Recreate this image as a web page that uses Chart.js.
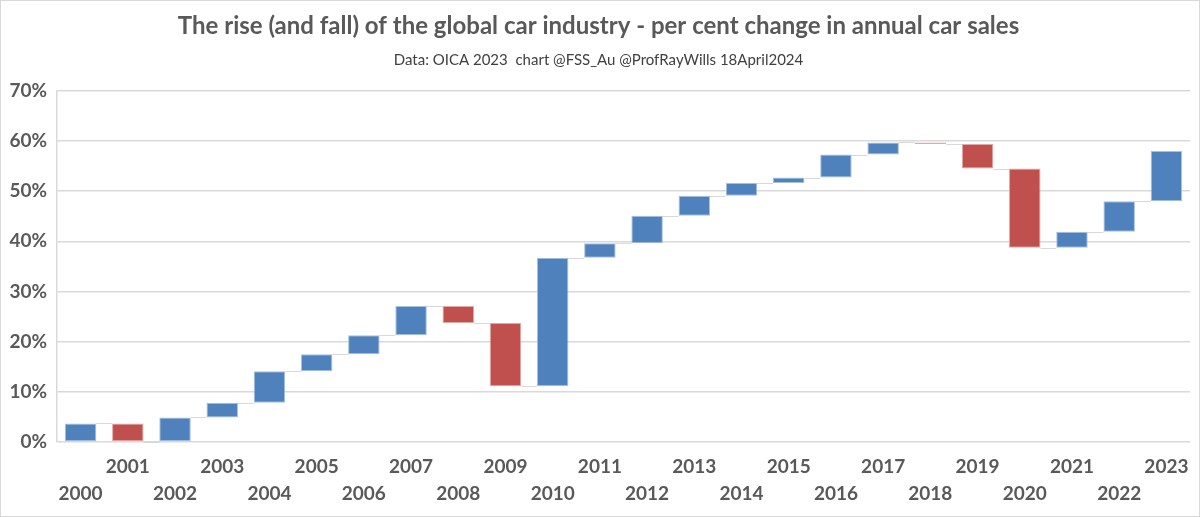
<!DOCTYPE html>
<html>
<head>
<meta charset="utf-8">
<script src="https://cdn.jsdelivr.net/npm/chart.js@4"></script>
<style>
  html, body { margin: 0; padding: 0; background: #fff; }
  #wrap { width: 1200px; height: 517px; box-sizing: border-box; border: 1px solid #d9d9d9; position: relative; }
  canvas { display: block; }
</style>
</head>
<body>
<div id="wrap"><canvas id="c"></canvas></div>
<script>
const years = ['2000','2001','2002','2003','2004','2005','2006','2007','2008','2009','2010','2011',
               '2012','2013','2014','2015','2016','2017','2018','2019','2020','2021','2022','2023'];
const startVals = [0, 3.7, 0, 4.9, 7.8, 14.1, 17.5, 21.3, 27.1, 23.7, 11.1, 36.7,
                   39.6, 45.1, 49.1, 51.6, 52.7, 57.3, 59.7, 59.4, 54.5, 38.7, 41.9, 48.0];
const endVals   = [3.7, 0, 4.9, 7.8, 14.1, 17.5, 21.3, 27.1, 23.7, 11.1, 36.7, 39.6,
                   45.1, 49.1, 51.6, 52.7, 57.3, 59.7, 59.4, 54.5, 38.7, 41.9, 48.0, 58.0];
const yTicks = [0, 10, 20, 30, 40, 50, 60, 70];

const BLUE = '#4f81bd', RED = '#c0504d', TXT = '#595959', GRID = '#d9d9d9';
const FONT = 'Lato, "Open Sans", sans-serif';

const connectors = {
  id: 'connectors',
  beforeDatasetsDraw(chart) {
    const meta = chart.getDatasetMeta(0);
    const ys = chart.scales.y;
    const ctx = chart.ctx;
    ctx.save();
    ctx.strokeStyle = GRID;
    ctx.lineWidth = 1;
    for (let i = 0; i < meta.data.length - 1; i++) {
      const a = meta.data[i], b = meta.data[i + 1];
      const yy = Math.round(ys.getPixelForValue(endVals[i])) + 0.5;
      ctx.beginPath();
      ctx.moveTo(a.x + a.width / 2, yy);
      ctx.lineTo(b.x - b.width / 2, yy);
      ctx.stroke();
    }
    ctx.restore();
  }
};

new Chart(document.getElementById('c'), {
  type: 'bar',
  data: {
    labels: years,
    datasets: [{
      data: years.map((y, i) => [startVals[i], endVals[i]]),
      backgroundColor: years.map((y, i) => endVals[i] < startVals[i] ? RED : BLUE),
      borderColor: years.map((y, i) => endVals[i] < startVals[i] ? '#e0a8a6' : '#a7c0de'),
      borderWidth: 1,
      borderSkipped: false,
      barPercentage: 0.667,
      categoryPercentage: 1.0
    }]
  },
  plugins: [connectors],
  options: {
    responsive: true,
    maintainAspectRatio: false,
    animation: false,
    layout: { padding: { left: 6, right: 9, top: 0, bottom: 0 } },
    plugins: {
      legend: { display: false },
      tooltip: { enabled: false },
      title: {
        display: true,
        text: 'The rise (and fall) of the global car industry - per cent change in annual car sales',
        color: TXT,
        font: { family: FONT, size: 24, weight: 'bold' },
        padding: { top: 11, bottom: 10 }
      },
      subtitle: {
        display: true,
        text: 'Data: OICA 2023  chart @FSS_Au @ProfRayWills 18April2024',
        color: '#404040',
        font: { family: FONT, size: 15 },
        padding: { top: 0, bottom: 22 }
      }
    },
    scales: {
      x: {
        grid: { display: false },
        border: { display: false },
        afterFit: (s) => { s.height = 74; },
        ticks: {
          autoSkip: false,
          maxRotation: 0,
          color: TXT,
          font: { family: FONT, size: 19, weight: 'bold', lineHeight: 1.4 },
          padding: 4,
          callback: function(v, i) { return i % 2 === 0 ? ['', years[i]] : [years[i], '']; }
        }
      },
      y: {
        min: 0, max: 70,
        afterBuildTicks: (s) => { s.ticks = yTicks.map(v => ({ value: v })); },
        afterFit: (s) => { s.width = 50; },
        grid: { color: GRID, lineWidth: 1.5, drawTicks: false },
        border: { display: true, color: GRID, width: 1.5 },
        ticks: {
          color: TXT,
          font: { family: FONT, size: 19, weight: 'bold' },
          padding: 10,
          callback: (v) => v + '%'
        }
      }
    }
  }
});
</script>
</body>
</html>
